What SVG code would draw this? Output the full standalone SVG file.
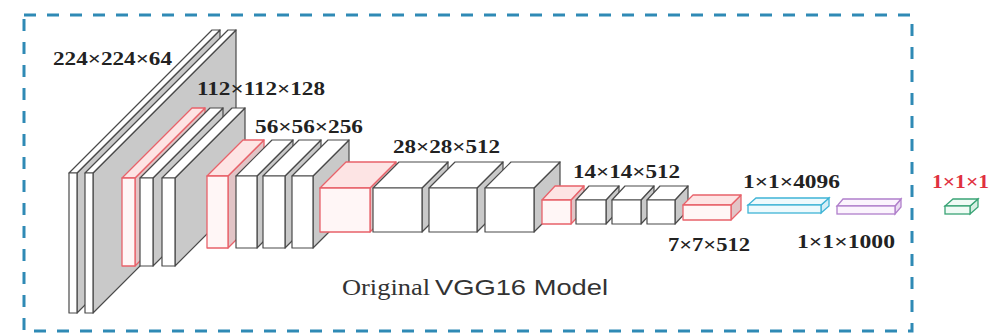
<svg xmlns="http://www.w3.org/2000/svg" width="989" height="333" viewBox="0 0 989 333">
<style>
.fr{fill:#ffffff;stroke:#4a4a4a;stroke-width:1.2;stroke-linejoin:round}
.tp{fill:#ffffff;stroke:#4a4a4a;stroke-width:1.2;stroke-linejoin:round}
.sd{fill:#c9c9c9;stroke:#4a4a4a;stroke-width:1.2;stroke-linejoin:round}
.rfr{fill:#fff6f6;stroke:#e8626a;stroke-width:1.3;stroke-linejoin:round}
.rtp{fill:#fde4e4;stroke:#e8626a;stroke-width:1.3;stroke-linejoin:round}
.rsd{fill:#e2c4c6;stroke:#e8626a;stroke-width:1.3;stroke-linejoin:round}
.cfr{fill:#eefafd;stroke:#3fb4d6;stroke-width:1.3}
.csd{fill:#d4eef6;stroke:#3fb4d6;stroke-width:1.3}
.pfr{fill:#fbf4fd;stroke:#b07fcb;stroke-width:1.3}
.psd{fill:#eadcf2;stroke:#b07fcb;stroke-width:1.3}
.gfr{fill:#f0fbf5;stroke:#3aa476;stroke-width:1.3}
.gsd{fill:#d6efe2;stroke:#3aa476;stroke-width:1.3}
.lbl{font-family:"Liberation Serif","Times New Roman",serif;font-weight:bold;font-size:18px;fill:#222}
.border{fill:none;stroke:#2f8ab5;stroke-width:3;stroke-dasharray:12 11}
</style>

<rect class="border" x="24" y="15" width="888" height="316"/>

<!-- 224x224x64 -->
<g id="block1">
  <polygon class="sd" points="77,173 220,30 220,170 77,313"/>
  <polygon class="tp" points="69,173 77,173 220,30 212,30"/>
  <rect class="fr" x="69" y="173" width="8" height="140"/>
  <polygon class="sd" points="93,173 236,30 236,170 93,313"/>
  <polygon class="tp" points="85,173 93,173 236,30 228,30"/>
  <rect class="fr" x="85" y="173" width="8" height="140"/>
</g>

<!-- 112x112x128 -->
<g id="block2">
  <polygon class="rsd" points="135,178 205,108 205,196 135,266"/>
  <polygon class="rtp" points="122,178 135,178 205,108 192,108"/>
  <rect class="rfr" x="122" y="178" width="13" height="88"/>
  <polygon class="sd" points="153,178 223,108 223,196 153,266"/>
  <polygon class="tp" points="140,178 153,178 223,108 210,108"/>
  <rect class="fr" x="140" y="178" width="13" height="88"/>
  <polygon class="sd" points="175,178 245,108 245,196 175,266"/>
  <polygon class="tp" points="162,178 175,178 245,108 232,108"/>
  <rect class="fr" x="162" y="178" width="13" height="88"/>
</g>

<!-- 56x56x256 -->
<g id="block3">
  <polygon class="rsd" points="228,176 264,140 264,212 228,248"/>
  <polygon class="rtp" points="207,176 228,176 264,140 243,140"/>
  <rect class="rfr" x="207" y="176" width="21" height="72"/>
  <polygon class="sd" points="257,176 293,140 293,212 257,248"/>
  <polygon class="tp" points="236,176 257,176 293,140 272,140"/>
  <rect class="fr" x="236" y="176" width="21" height="72"/>
  <polygon class="sd" points="285,176 321,140 321,212 285,248"/>
  <polygon class="tp" points="263,176 285,176 321,140 299,140"/>
  <rect class="fr" x="263" y="176" width="22" height="72"/>
  <polygon class="sd" points="313,176 349,140 349,212 313,248"/>
  <polygon class="tp" points="292,176 313,176 349,140 328,140"/>
  <rect class="fr" x="292" y="176" width="21" height="72"/>
</g>

<!-- 28x28x512 -->
<g id="block4">
  <polygon class="rsd" points="370,188 396,162 396,206 370,232"/>
  <polygon class="rtp" points="320,188 370,188 396,162 346,162"/>
  <rect class="rfr" x="320" y="188" width="50" height="44"/>
  <polygon class="sd" points="422,188 448,162 448,206 422,232"/>
  <polygon class="tp" points="373,188 422,188 448,162 399,162"/>
  <rect class="fr" x="373" y="188" width="49" height="44"/>
  <polygon class="sd" points="477,188 503,162 503,206 477,232"/>
  <polygon class="tp" points="429,188 477,188 503,162 455,162"/>
  <rect class="fr" x="429" y="188" width="48" height="44"/>
  <polygon class="sd" points="534,188 560,162 560,206 534,232"/>
  <polygon class="tp" points="485,188 534,188 560,162 511,162"/>
  <rect class="fr" x="485" y="188" width="49" height="44"/>
</g>

<!-- 14x14x512 -->
<g id="block5">
  <polygon class="rsd" points="571,200 584,186 584,210 571,224"/>
  <polygon class="rtp" points="542,200 571,200 584,186 555,186"/>
  <rect class="rfr" x="542" y="200" width="29" height="24"/>
  <polygon class="sd" points="606,200 619,186 619,210 606,224"/>
  <polygon class="tp" points="576,200 606,200 619,186 589,186"/>
  <rect class="fr" x="576" y="200" width="30" height="24"/>
  <polygon class="sd" points="641,200 654,186 654,210 641,224"/>
  <polygon class="tp" points="612,200 641,200 654,186 625,186"/>
  <rect class="fr" x="612" y="200" width="29" height="24"/>
  <polygon class="sd" points="675,200 688,186 688,210 675,224"/>
  <polygon class="tp" points="647,200 675,200 688,186 660,186"/>
  <rect class="fr" x="647" y="200" width="28" height="24"/>
</g>

<!-- 7x7x512 -->
<g id="block6">
  <polygon class="rsd" points="731,205 741,195 741,210 731,220"/>
  <polygon class="rtp" points="683,205 731,205 741,195 693,195"/>
  <rect class="rfr" x="683" y="205" width="48" height="15"/>
</g>

<!-- 1x1x4096 -->
<g id="fc1">
  <polygon class="csd" points="821,205 829,198 829,206 821,213"/>
  <polygon class="cfr" points="748,205 821,205 829,198 756,198"/>
  <rect class="cfr" x="748" y="205" width="73" height="8"/>
</g>

<!-- 1x1x1000 -->
<g id="fc2">
  <polygon class="psd" points="895,206 901,199 901,207 895,214"/>
  <polygon class="pfr" points="837,206 895,206 901,199 843,199"/>
  <rect class="pfr" x="837" y="206" width="58" height="8"/>
</g>

<!-- new output -->
<g id="fc3">
  <polygon class="gsd" points="970,206 978,199 978,207 970,214"/>
  <polygon class="gfr" points="945,206 970,206 978,199 953,199"/>
  <rect class="gfr" x="945" y="206" width="25" height="8"/>
</g>

<g id="labels">
  <text class="lbl" x="53" y="65" textLength="119" lengthAdjust="spacingAndGlyphs">224×224×64</text>
  <text class="lbl" x="197" y="95" textLength="128" lengthAdjust="spacingAndGlyphs">112×112×128</text>
  <text class="lbl" x="255" y="133" textLength="108" lengthAdjust="spacingAndGlyphs">56×56×256</text>
  <text class="lbl" x="393" y="153" textLength="107" lengthAdjust="spacingAndGlyphs">28×28×512</text>
  <text class="lbl" x="573" y="178" textLength="107" lengthAdjust="spacingAndGlyphs">14×14×512</text>
  <text class="lbl" x="668" y="251" textLength="82" lengthAdjust="spacingAndGlyphs">7×7×512</text>
  <text class="lbl" x="743" y="188" textLength="97" lengthAdjust="spacingAndGlyphs">1×1×4096</text>
  <text class="lbl" x="797" y="248" textLength="98" lengthAdjust="spacingAndGlyphs">1×1×1000</text>
  <text class="lbl" x="932" y="188" textLength="57" lengthAdjust="spacingAndGlyphs" style="fill:#e0303e">1×1×1</text>
  <text x="342" y="295" textLength="88" lengthAdjust="spacingAndGlyphs" style="font-family:'Liberation Serif','Times New Roman',serif;font-size:24px;fill:#333">Original</text>
  <text x="435" y="295" textLength="173" lengthAdjust="spacingAndGlyphs" style="font-family:'Liberation Sans',Arial,sans-serif;font-size:22px;fill:#333">VGG16 Model</text>
</g>
</svg>
